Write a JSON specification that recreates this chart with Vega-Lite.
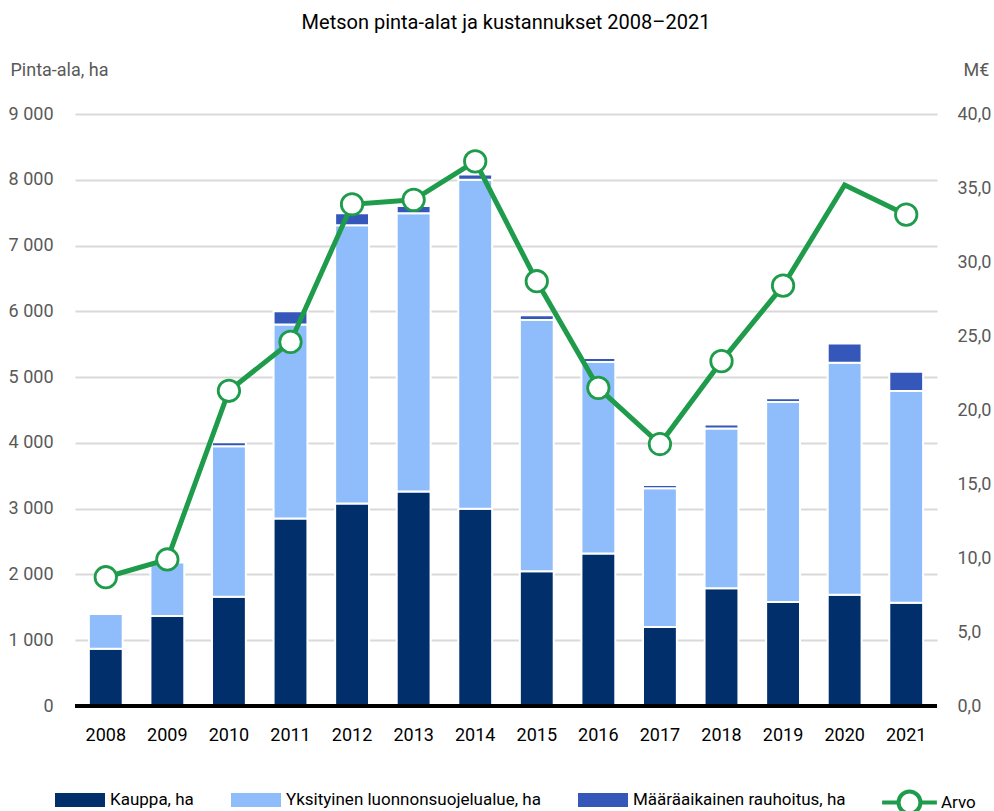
{
  "$schema": "https://vega.github.io/schema/vega-lite/v6.json",
  "autosize": {"type": "none"},
  "width": 862,
  "height": 592,
  "padding": {"left": 75, "top": 114, "right": 57, "bottom": 105},
  "background": "white",
  "config": {
    "font": "Roboto",
    "view": {"stroke": null}
  },
  "title": {
    "text": "Metson pinta-alat ja kustannukset 2008–2021",
    "fontSize": 20,
    "fontWeight": "normal",
    "color": "#000000",
    "anchor": "middle",
    "offset": 28
  },
  "data": {
    "values": [
      {"vuosi": "2008", "Kauppa, ha": 870, "Yksityinen luonnonsuojelualue, ha": 530, "Määräaikainen rauhoitus, ha": 0, "Arvo": 8.7},
      {"vuosi": "2009", "Kauppa, ha": 1370, "Yksityinen luonnonsuojelualue, ha": 810, "Määräaikainen rauhoitus, ha": 0, "Arvo": 9.9},
      {"vuosi": "2010", "Kauppa, ha": 1660, "Yksityinen luonnonsuojelualue, ha": 2290, "Määräaikainen rauhoitus, ha": 60, "Arvo": 21.3},
      {"vuosi": "2011", "Kauppa, ha": 2850, "Yksityinen luonnonsuojelualue, ha": 2950, "Määräaikainen rauhoitus, ha": 200, "Arvo": 24.6},
      {"vuosi": "2012", "Kauppa, ha": 3080, "Yksityinen luonnonsuojelualue, ha": 4230, "Määräaikainen rauhoitus, ha": 180, "Arvo": 33.9},
      {"vuosi": "2013", "Kauppa, ha": 3260, "Yksityinen luonnonsuojelualue, ha": 4230, "Määräaikainen rauhoitus, ha": 110, "Arvo": 34.2},
      {"vuosi": "2014", "Kauppa, ha": 3000, "Yksityinen luonnonsuojelualue, ha": 5000, "Määräaikainen rauhoitus, ha": 80, "Arvo": 36.8},
      {"vuosi": "2015", "Kauppa, ha": 2050, "Yksityinen luonnonsuojelualue, ha": 3820, "Määräaikainen rauhoitus, ha": 70, "Arvo": 28.7},
      {"vuosi": "2016", "Kauppa, ha": 2320, "Yksityinen luonnonsuojelualue, ha": 2910, "Määräaikainen rauhoitus, ha": 60, "Arvo": 21.5},
      {"vuosi": "2017", "Kauppa, ha": 1200, "Yksityinen luonnonsuojelualue, ha": 2110, "Määräaikainen rauhoitus, ha": 50, "Arvo": 17.7},
      {"vuosi": "2018", "Kauppa, ha": 1790, "Yksityinen luonnonsuojelualue, ha": 2430, "Määräaikainen rauhoitus, ha": 60, "Arvo": 23.3},
      {"vuosi": "2019", "Kauppa, ha": 1580, "Yksityinen luonnonsuojelualue, ha": 3040, "Määräaikainen rauhoitus, ha": 60, "Arvo": 28.4},
      {"vuosi": "2020", "Kauppa, ha": 1690, "Yksityinen luonnonsuojelualue, ha": 3530, "Määräaikainen rauhoitus, ha": 290, "Arvo": 35.2},
      {"vuosi": "2021", "Kauppa, ha": 1570, "Yksityinen luonnonsuojelualue, ha": 3220, "Määräaikainen rauhoitus, ha": 290, "Arvo": 33.2}
    ]
  },
  "encoding": {
    "x": {
      "field": "vuosi",
      "type": "ordinal",
      "scale": {"paddingInner": 0.45, "paddingOuter": 0.225},
      "axis": {
        "title": null,
        "labelAngle": 0,
        "labelFontSize": 18,
        "labelColor": "#000000",
        "labelPadding": 20,
        "ticks": false,
        "domain": false
      }
    }
  },
  "layer": [
    {
      "transform": [
        {"fold": ["Kauppa, ha", "Yksityinen luonnonsuojelualue, ha", "Määräaikainen rauhoitus, ha"], "as": ["sarja", "ha"]},
        {"filter": "datum.ha > 0"},
        {"calculate": "indexof(['Kauppa, ha', 'Yksityinen luonnonsuojelualue, ha', 'Määräaikainen rauhoitus, ha'], datum.sarja)", "as": "jarjestys"}
      ],
      "mark": {"type": "bar", "stroke": "white", "strokeWidth": 2},
      "encoding": {
        "y": {
          "field": "ha",
          "type": "quantitative",
          "stack": "zero",
          "scale": {"domain": [0, 9000]},
          "axis": {
            "title": "Pinta-ala, ha",
            "titleAngle": 0,
            "titleAlign": "left",
            "titleBaseline": "middle",
            "titleX": -65,
            "titleY": -44,
            "titleFontSize": 18,
            "titleFontWeight": "normal",
            "titleColor": "#595959",
            "values": [0, 1000, 2000, 3000, 4000, 5000, 6000, 7000, 8000, 9000],
            "labelExpr": "replace(format(datum.value, ',d'), ',', ' ')",
            "labelFontSize": 18,
            "labelColor": "#595959",
            "labelPadding": 22,
            "ticks": false,
            "domain": false,
            "gridColor": "#d9d9d9",
            "gridWidth": 2
          }
        },
        "order": {"field": "jarjestys", "type": "quantitative", "sort": "ascending"},
        "fill": {
          "field": "sarja",
          "type": "nominal",
          "scale": {
            "domain": ["Kauppa, ha", "Yksityinen luonnonsuojelualue, ha", "Määräaikainen rauhoitus, ha"],
            "range": ["#002f6c", "#8fbdfb", "#3557b9"]
          },
          "legend": {
            "title": null,
            "orient": "none",
            "direction": "horizontal",
            "legendX": -20,
            "legendY": 661,
            "symbolType": "M-1,-0.28H1V0.28H-1Z",
            "symbolSize": 2500,
            "symbolStrokeWidth": 0,
            "labelFontSize": 17,
            "labelColor": "#000000",
            "labelOffset": 5,
            "columnPadding": 37,
            "labelLimit": 400
          }
        }
      }
    },
    {
      "mark": {"type": "rule", "color": "#000000", "strokeWidth": 3},
      "encoding": {"y": {"datum": 0, "type": "quantitative", "scale": {"domain": [0, 9000]}, "axis": null}, "x": null}
    },
    {
      "mark": {"type": "line", "strokeWidth": 5},
      "encoding": {
        "y": {
          "field": "Arvo",
          "type": "quantitative",
          "scale": {"domain": [0, 40]},
          "axis": {
            "orient": "right",
            "title": "M€",
            "titleAngle": 0,
            "titleAlign": "left",
            "titleBaseline": "middle",
            "titleX": 26,
            "titleY": -44,
            "titleFontSize": 18,
            "titleFontWeight": "normal",
            "titleColor": "#595959",
            "values": [0, 5, 10, 15, 20, 25, 30, 35, 40],
            "labelExpr": "replace(format(datum.value, '.1f'), '.', ',')",
            "labelFontSize": 18,
            "labelColor": "#595959",
            "labelPadding": 20,
            "ticks": false,
            "domain": false,
            "grid": false
          }
        },
        "stroke": {
          "datum": "Arvo",
          "type": "nominal",
          "scale": {"domain": ["Arvo"], "range": ["#1f9c4b"]},
          "legend": {
            "title": null,
            "orient": "none",
            "legendX": 805,
            "legendY": 659,
            "symbolType": "M-1,0H-0.4M0.4,0H1M-0.4,0A0.4,0.4 0 1,0 0.4,0A0.4,0.4 0 1,0 -0.4,0",
            "symbolSize": 3000,
            "symbolStrokeWidth": 4,
            "symbolFillColor": "white",
            "labelFontSize": 17,
            "labelColor": "#000000",
            "labelOffset": 2
          }
        }
      }
    },
    {
      "transform": [{"filter": "datum.vuosi != '2020'"}],
      "mark": {"type": "point", "shape": "circle", "filled": true, "fill": "white", "stroke": "#1f9c4b", "strokeWidth": 2.8, "size": 460, "opacity": 1},
      "encoding": {
        "y": {"field": "Arvo", "type": "quantitative", "scale": {"domain": [0, 40]}, "axis": null}
      }
    }
  ],
  "resolve": {"scale": {"y": "independent", "fill": "independent", "stroke": "independent"}}
}
